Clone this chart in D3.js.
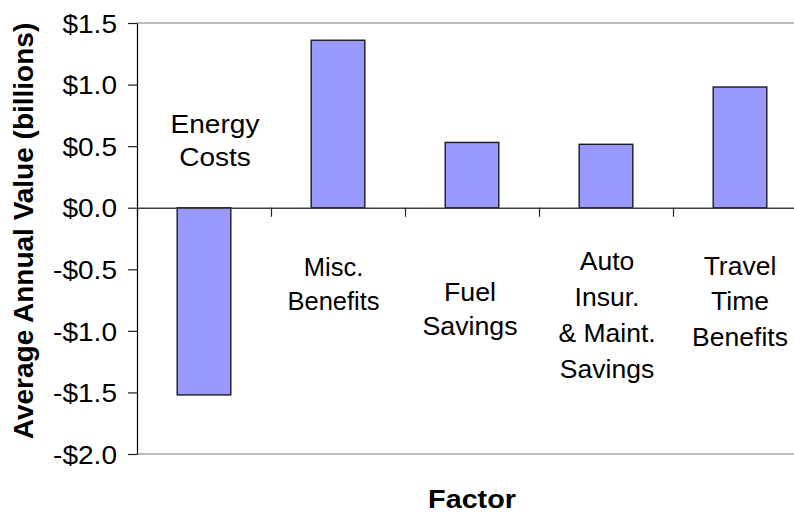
<!DOCTYPE html>
<html>
<head>
<meta charset="utf-8">
<script src="https://cdn.jsdelivr.net/npm/d3@7"></script>
<style>
  html, body { margin: 0; padding: 0; background: #fff; }
  svg { display: block; }
  text { font-family: "Liberation Sans", Arial, sans-serif; fill: #000; }
</style>
</head>
<body>
<svg id="chart" width="794" height="514"></svg>
<script>
// ---- data ----
const categories = ["Energy Costs", "Misc. Benefits", "Fuel Savings", "Auto Insur. & Maint. Savings", "Travel Time Benefits"];
const values = [-1.52, 1.36, 0.53, 0.515, 0.98];
const labelLines = [
  ["Energy", "Costs"],
  ["Misc.", "Benefits"],
  ["Fuel", "Savings"],
  ["Auto", "Insur.", "& Maint.", "Savings"],
  ["Travel", "Time", "Benefits"]
];
const yTicks = [-2.0, -1.5, -1.0, -0.5, 0.0, 0.5, 1.0, 1.5];
const yTitle = "Average Annual Value (billions)";
const xTitle = "Factor";

// ---- layout (styling, not data) ----
const W = 794, H = 514;
const plot = { left: 137, right: 807, top: 23, bottom: 454 };
// label placement: dx from category centre, baseline offset from zero line, line height, font size, x-stretch
const labelLayout = [
  { dx: 11,   dy: -75,  lh: 33,   fs: 25.5, sx: 1.1 },
  { dx: -4.5, dy: 68.5, lh: 34,   fs: 25.5, sx: 1.0 },
  { dx: -2,   dy: 93,   lh: 34,   fs: 25.5, sx: 1.05 },
  { dx: 1,    dy: 62,   lh: 36,   fs: 25.5, sx: 1.04 },
  { dx: 0,    dy: 67,   lh: 35.5, fs: 25.5, sx: 1.04 }
];

const svg = d3.select("#chart");

const y = d3.scaleLinear().domain([-2, 1.5]).range([plot.bottom, plot.top]);
const x = d3.scaleBand().domain(categories).range([plot.left, plot.right])
  .paddingInner(0.6).paddingOuter(0.3);
const xEdge = d3.scaleLinear().domain([0, categories.length]).range([plot.left, plot.right]);

// top / bottom / right plot border (gray)
svg.append("line").attr("x1", plot.left).attr("x2", plot.right)
  .attr("y1", y(1.5)).attr("y2", y(1.5)).attr("stroke", "#a6a6a6").attr("stroke-width", 1.4);
svg.append("line").attr("x1", plot.left).attr("x2", plot.right)
  .attr("y1", y(-2)).attr("y2", y(-2)).attr("stroke", "#a6a6a6").attr("stroke-width", 1.4);
svg.append("line").attr("x1", plot.right).attr("x2", plot.right)
  .attr("y1", y(1.5)).attr("y2", y(-2)).attr("stroke", "#a6a6a6").attr("stroke-width", 1.4);

// bars
svg.append("g").selectAll("rect").data(values).join("rect")
  .attr("x", (d, i) => x(categories[i]))
  .attr("width", x.bandwidth())
  .attr("y", d => y(Math.max(0, d)))
  .attr("height", d => Math.abs(y(d) - y(0)))
  .attr("fill", "#9999ff")
  .attr("stroke", "#1a1a1a")
  .attr("stroke-width", 1.4);

// zero-line category axis
const xAxis = d3.axisBottom(xEdge)
  .tickValues(d3.range(categories.length + 1))
  .tickFormat("")
  .tickSize(9).tickSizeOuter(0);
const gx = svg.append("g").attr("transform", `translate(0,${y(0)})`).call(xAxis);
gx.select(".domain").attr("stroke", "#404040").attr("stroke-width", 1.5);
gx.selectAll(".tick line").attr("stroke", "#202020").attr("stroke-width", 1.2);

// y axis
const yAxis = d3.axisLeft(y).tickValues(yTicks)
  .tickFormat(d => (d < 0 ? "-$" : "$") + Math.abs(d).toFixed(1))
  .tickSize(9).tickSizeOuter(0).tickPadding(11);
const gy = svg.append("g").attr("transform", `translate(${plot.left},0)`).call(yAxis);
gy.select(".domain").attr("stroke", "#000").attr("stroke-width", 1.2);
gy.selectAll(".tick line").attr("stroke", "#202020").attr("stroke-width", 1.2);
gy.selectAll(".tick text")
  .attr("font-family", "Liberation Sans, Arial, sans-serif")
  .attr("font-size", 25.5)
  .attr("x", 0)
  .attr("dy", "0.36em")
  .attr("transform", "translate(-20,0) scale(1.1,1)");

// category labels
labelLines.forEach((lines, i) => {
  const L = labelLayout[i];
  const cx = x(categories[i]) + x.bandwidth() / 2 + L.dx;
  const t = svg.append("text")
    .attr("text-anchor", "middle")
    .attr("font-size", L.fs)
    .attr("transform", `translate(${cx},${y(0) + L.dy}) scale(${L.sx},1)`);
  lines.forEach((ln, j) => {
    t.append("tspan").attr("x", 0).attr("y", j * L.lh).text(ln);
  });
});

// axis titles
svg.append("text")
  .attr("text-anchor", "middle")
  .attr("font-size", 28)
  .attr("font-weight", "bold")
  .attr("transform", `translate(33,231) rotate(-90)`)
  .text(yTitle);

svg.append("text")
  .attr("text-anchor", "middle")
  .attr("font-size", 25)
  .attr("font-weight", "bold")
  .attr("transform", `translate(${(plot.left + plot.right) / 2},508) scale(1.15,1)`)
  .text(xTitle);
</script>
</body>
</html>
